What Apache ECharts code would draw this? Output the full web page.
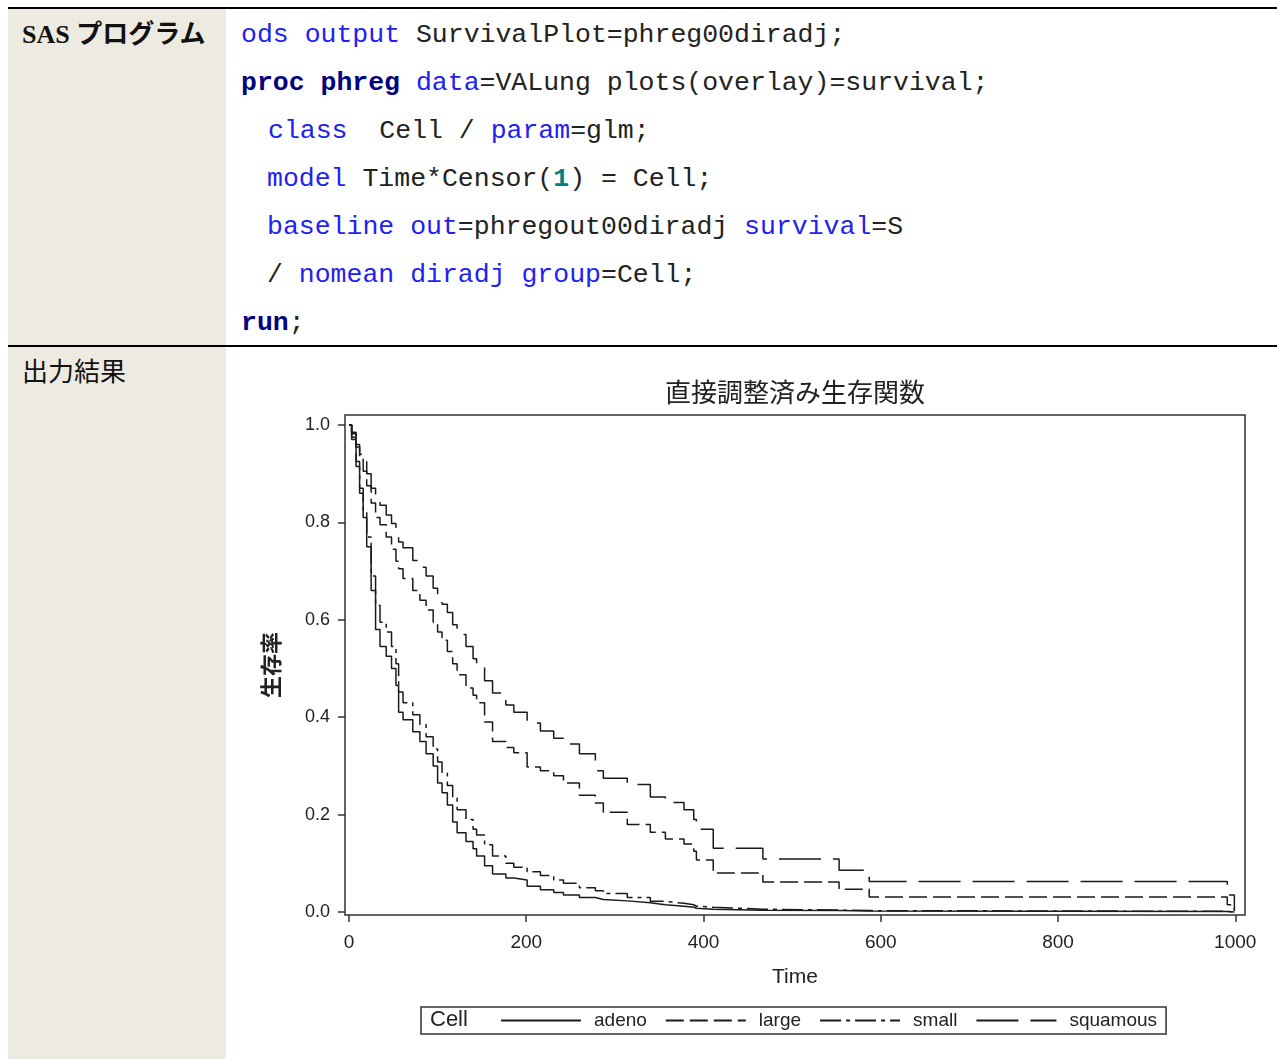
<!DOCTYPE html>
<html>
<head>
<meta charset="utf-8">
<script src="https://cdn.jsdelivr.net/npm/echarts@6/dist/echarts.min.js"></script>
<style>
html,body{margin:0;padding:0;background:#fff;}
body{width:1277px;height:1059px;position:relative;overflow:hidden;}
.bg{position:absolute;left:8px;top:9px;width:218px;height:1050px;background:#EDEAE1;}
.rule{position:absolute;left:8px;width:1269px;height:2px;background:#000;}
.lbl{position:absolute;left:22px;height:48px;line-height:48px;font-size:26px;color:#111;white-space:nowrap;}
.code{position:absolute;height:48px;line-height:48px;font-family:"Liberation Mono","Courier New",monospace;font-size:26.5px;color:#222;white-space:pre;}
.k{color:#2222ee;}
.p{color:#000080;font-weight:bold;}
.n{color:#008080;font-weight:bold;}
#chart{position:absolute;left:226px;top:348px;width:1051px;height:711px;}
</style>
</head>
<body>
<div class="bg"></div>
<div class="rule" style="top:7px"></div>
<div class="rule" style="top:345px"></div>
<div class="lbl" style="top:11px;font-weight:bold;font-family:'Liberation Serif','Noto Sans CJK JP',serif;">SAS プログラム</div>
<div class="code" style="left:241px;top:11px"><span class="k">ods</span> <span class="k">output</span> SurvivalPlot=phreg00diradj;</div>
<div class="code" style="left:241px;top:59px"><span class="p">proc phreg</span> <span class="k">data</span>=VALung plots(overlay)=survival;</div>
<div class="code" style="left:268px;top:107px"><span class="k">class</span>  Cell / <span class="k">param</span>=glm;</div>
<div class="code" style="left:267px;top:155px"><span class="k">model</span> Time*Censor(<span class="n">1</span>) = Cell;</div>
<div class="code" style="left:267px;top:203px"><span class="k">baseline</span> <span class="k">out</span>=phregout00diradj <span class="k">survival</span>=S</div>
<div class="code" style="left:267px;top:251px">/ <span class="k">nomean</span> <span class="k">diradj</span> <span class="k">group</span>=Cell;</div>
<div class="code" style="left:241px;top:299px"><span class="p">run</span>;</div>
<div class="lbl" style="top:346px;font-family:'Noto Sans CJK JP',sans-serif;">出力結果</div>
<div id="chart"></div>
<script>
// Step times (days) and direct adjusted survival estimates
const times    = [0,3,8,12,16,20,25,30,35,42,48,53,56,61,72,80,87,95,100,105,111,117,122,132,140,144,153,162,177,186,201,216,231,242,260,278,287,314,340,357,378,389,392,411,467,553,587,991,999];
const adeno    = [1,0.97,0.915,0.86,0.81,0.75,0.66,0.58,0.545,0.525,0.5,0.465,0.41,0.395,0.37,0.35,0.325,0.3,0.265,0.245,0.22,0.185,0.163,0.145,0.13,0.115,0.095,0.078,0.07,0.066,0.053,0.046,0.04,0.035,0.03,0.026,0.023,0.019,0.015,0.012,0.01,0.008,0.006,0.004,0.003,0.002,0.001,0.0002,0];
const large    = [1,0.982,0.955,0.93,0.905,0.875,0.84,0.81,0.795,0.77,0.745,0.72,0.705,0.685,0.66,0.64,0.62,0.595,0.575,0.558,0.535,0.51,0.487,0.46,0.445,0.43,0.39,0.35,0.338,0.327,0.298,0.29,0.28,0.265,0.24,0.224,0.205,0.18,0.164,0.15,0.14,0.125,0.107,0.08,0.062,0.047,0.031,0.015,0.002];
const small    = [1,0.975,0.925,0.87,0.825,0.77,0.69,0.63,0.595,0.575,0.545,0.51,0.452,0.43,0.405,0.385,0.36,0.335,0.308,0.285,0.26,0.234,0.21,0.19,0.17,0.158,0.138,0.115,0.1,0.092,0.083,0.075,0.066,0.059,0.05,0.044,0.038,0.03,0.022,0.018,0.015,0.012,0.01,0.006,0.004,0.003,0.0015,0.0005,0];
const squamous = [1,0.985,0.96,0.94,0.925,0.9,0.87,0.848,0.835,0.815,0.798,0.77,0.76,0.748,0.722,0.708,0.69,0.665,0.645,0.632,0.615,0.59,0.57,0.545,0.52,0.505,0.475,0.45,0.425,0.41,0.388,0.372,0.357,0.345,0.325,0.29,0.275,0.262,0.236,0.225,0.21,0.19,0.17,0.131,0.109,0.086,0.063,0.035,0.005];
const cells  = ['adeno','large','small','squamous'];
const xTicks = [0,200,400,600,800,1000];
const yTicks = [0,0.2,0.4,0.6,0.8,1.0];
const titleText = '直接調整済み生存関数';

const curves = [adeno, large, small, squamous];
const dashes = ['solid', [18,6], [21,5,4,5], [42,12]];

const chart = echarts.init(document.getElementById('chart'), null, {renderer:'canvas'});
const option = {
  animation: false,
  textStyle: {fontFamily: '"Liberation Sans", Arial, sans-serif'},
  grid: {left:119, top:67, width:900, height:500, show:true, borderColor:'#333', borderWidth:1.5, backgroundColor:'#fff'},
  xAxis: {
    type:'value', min:-4.5, max:1011,
    name:'Time', nameLocation:'middle', nameGap:52,
    nameTextStyle:{fontSize:21, color:'#222'},
    axisLine:{show:false, onZero:false},
    axisTick:{show:true, length:7, lineStyle:{color:'#333', width:1.5}, customValues:xTicks},
    axisLabel:{fontSize:19, color:'#222', margin:18, customValues:xTicks, formatter:(v)=>String(v)},
    splitLine:{show:false}
  },
  yAxis: {
    type:'value', min:-0.006, max:1.0205,
    name:'生存率', nameLocation:'middle', nameGap:63, nameRotate:90,
    nameTextStyle:{fontSize:22, fontWeight:'bold', color:'#222', fontFamily:'"Noto Sans CJK JP", sans-serif'},
    axisLine:{show:false, onZero:false},
    axisTick:{show:true, length:7, lineStyle:{color:'#333', width:1.5}, customValues:yTicks},
    axisLabel:{fontSize:18, color:'#222', margin:15, customValues:yTicks, formatter:(v)=>v.toFixed(1)},
    splitLine:{show:false}
  },
  legend: {
    left:195, top:659, orient:'horizontal',
    padding:[4,9,4,79],
    itemWidth:80, itemHeight:14, itemGap:18,
    borderColor:'#333', borderWidth:1.5,
    itemStyle:{opacity:0, borderWidth:0},
    textStyle:{fontSize:19, color:'#222', padding:[0,0,0,8]},
    data: cells
  },
  graphic: [
    {type:'text', x:569, y:44, style:{text:titleText, font:'26px "Noto Sans CJK JP", sans-serif', fill:'#222', align:'center', verticalAlign:'middle'}},
    {type:'text', x:204, y:672, z:100, style:{text:'Cell', font:'22px "Liberation Sans", Arial, sans-serif', fill:'#222', align:'left', verticalAlign:'middle'}}
  ],
  series: cells.map((name, k) => ({
    name: name,
    type: 'line',
    step: 'end',
    symbol: 'none',
    lineStyle: {color:'#1a1a1a', width:1.5, type: dashes[k]},
    itemStyle: {color:'#1a1a1a'},
    data: times.map((t, i) => [t, curves[k][i]])
  }))
};
chart.setOption(option);
</script>
</body>
</html>
